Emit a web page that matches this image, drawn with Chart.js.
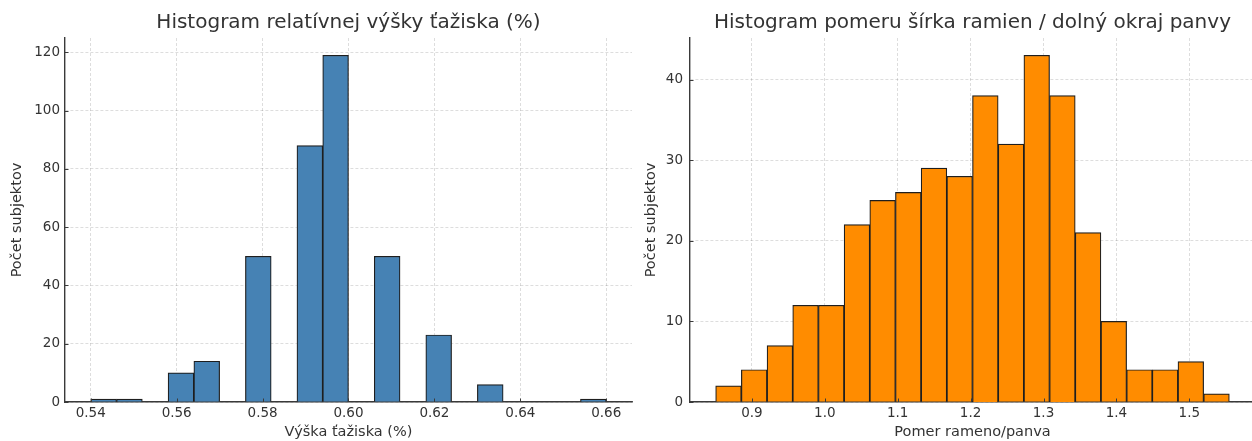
<!DOCTYPE html>
<html><head><meta charset="utf-8">
<script src="https://cdn.jsdelivr.net/npm/chart.js@4"></script>
<style>
html,body{margin:0;padding:0;background:#fff;overflow:hidden;width:1252px;height:441px}
#wrap{position:relative;width:1252px;height:441px;overflow:hidden;background:#fff}
#c1{position:absolute;left:0;top:0}
#c2{position:absolute;left:640px;top:0}
</style></head><body>
<div id="wrap"><canvas id="c1" width="640" height="441"></canvas><canvas id="c2" width="625" height="441"></canvas></div>
<script>
// ---- Left histogram ----
const leftTitle = 'Histogram relatívnej výšky ťažiska (%)';
const leftXLabel = 'Výška ťažiska (%)';
const leftYLabel = 'Počet subjektov';
const leftEdges = [0.540, 0.546, 0.552, 0.558, 0.564, 0.570, 0.576, 0.582, 0.588, 0.594, 0.600,
                   0.606, 0.612, 0.618, 0.624, 0.630, 0.636, 0.642, 0.648, 0.654, 0.660];
const leftCounts = [1, 1, 0, 10, 14, 0, 50, 0, 88, 119, 0, 50, 0, 23, 0, 6, 0, 0, 0, 1];
const leftXTicks = [0.54, 0.56, 0.58, 0.60, 0.62, 0.64, 0.66];
const leftXTickLabels = ['0.54', '0.56', '0.58', '0.60', '0.62', '0.64', '0.66'];
const leftYTicks = [0, 20, 40, 60, 80, 100, 120];
const leftYTickLabels = ['0', '20', '40', '60', '80', '100', '120'];

// ---- Right histogram ----
const rightTitle = 'Histogram pomeru šírka ramien / dolný okraj panvy';
const rightXLabel = 'Pomer rameno/panva';
const rightYLabel = 'Počet subjektov';
const rightEdges = [0.8503, 0.8855, 0.9208, 0.9560, 0.9912, 1.0265, 1.0617, 1.0969, 1.1321, 1.1674, 1.2026,
                    1.2378, 1.2731, 1.3083, 1.3435, 1.3788, 1.4140, 1.4492, 1.4844, 1.5197, 1.5549];
const rightCounts = [2, 4, 7, 12, 12, 22, 25, 26, 29, 28, 38, 32, 43, 38, 21, 10, 4, 4, 5, 1];
const rightXTicks = [0.9, 1.0, 1.1, 1.2, 1.3, 1.4, 1.5];
const rightXTickLabels = ['0.9', '1.0', '1.1', '1.2', '1.3', '1.4', '1.5'];
const rightYTicks = [0, 10, 20, 30, 40];
const rightYTickLabels = ['0', '10', '20', '30', '40'];

const FONT = "'DejaVu Sans', sans-serif";
const TEXT = '#333333';
const GRID = 'rgba(0,0,0,0.17)';
const AXIS = '#3a3a3a';

// small inward tick marks (matplotlib style), positioned by the chart's own scales
const inTicks = {
  id: 'inTicks',
  afterDraw(chart) {
    const { ctx, chartArea: a, scales: { x, y } } = chart;
    ctx.save();
    ctx.strokeStyle = AXIS; ctx.lineWidth = 1;
    ctx.beginPath();
    x.ticks.forEach(t => { const px = Math.round(x.getPixelForValue(t.value)) + 0.5; ctx.moveTo(px, a.bottom); ctx.lineTo(px, a.bottom - 3.5); });
    y.ticks.forEach(t => { const py = Math.round(y.getPixelForValue(t.value)) + 0.5; ctx.moveTo(a.left, py); ctx.lineTo(a.left + 3.5, py); });
    ctx.stroke();
    ctx.restore();
  }
};

function makeHist(id, o) {
  const pts = o.counts.map((c, i) => ({ x: (o.edges[i] + o.edges[i + 1]) / 2, y: c }));
  return new Chart(document.getElementById(id), {
    type: 'bar',
    data: { datasets: [{
      data: pts,
      backgroundColor: o.color,
      borderColor: '#1e1e1e',
      borderWidth: 1.2,
      barPercentage: 1,
      categoryPercentage: 1
    }]},
    plugins: [inTicks],
    options: {
      responsive: false,
      animation: false,
      devicePixelRatio: 1,
      layout: { padding: { left: 0, right: o.padRight, top: 0, bottom: 0 } },
      plugins: {
        legend: { display: false },
        tooltip: { enabled: false },
        title: {
          display: true, text: o.title, fullSize: false, color: TEXT,
          font: { family: FONT, size: 20, weight: 'normal', lineHeight: 1.2 },
          padding: { top: 11, bottom: 3 }
        }
      },
      scales: {
        x: {
          type: 'linear', min: o.xmin, max: o.xmax, offset: false,
          grid: { offset: false, color: GRID, lineWidth: 0.8, drawTicks: false },
          border: { display: true, color: AXIS, width: 1.4, dash: [3, 2] },
          afterBuildTicks: s => { s.ticks = o.xTicks.map(v => ({ value: v })); },
          afterFit: s => { s.height = 39; },
          ticks: {
            color: TEXT, padding: 3, maxRotation: 0, autoSkip: false,
            font: { family: FONT, size: 13.5 },
            callback: (v, i) => o.xTickLabels[i]
          },
          title: { display: true, text: o.xLabel, color: TEXT,
                   font: { family: FONT, size: 14.5 }, padding: { top: 0, bottom: 0 } }
        },
        y: {
          type: 'linear', min: 0, max: o.ymax,
          grid: { color: GRID, lineWidth: 0.8, drawTicks: false },
          border: { display: true, color: AXIS, width: 1.4, dash: [3, 2] },
          afterBuildTicks: s => { s.ticks = o.yTicks.map(v => ({ value: v })); },
          afterFit: s => { s.width = o.yWidth; },
          ticks: {
            color: TEXT, padding: o.yTickPad, autoSkip: false,
            font: { family: FONT, size: 13.5 },
            callback: (v, i) => o.yTickLabels[i]
          },
          title: { display: true, text: o.yLabel, color: TEXT,
                   font: { family: FONT, size: 14.5 }, padding: { top: o.yTitlePad, bottom: 0 } }
        }
      }
    }
  });
}

makeHist('c1', {
  title: leftTitle, xLabel: leftXLabel, yLabel: leftYLabel,
  edges: leftEdges, counts: leftCounts, color: '#4682B4',
  xTicks: leftXTicks, xTickLabels: leftXTickLabels,
  yTicks: leftYTicks, yTickLabels: leftYTickLabels,
  xmin: 0.534, xmax: 0.666, ymax: 124.95,
  yWidth: 65, yTitlePad: 8.3, yTickPad: 5, padRight: 8
});
makeHist('c2', {
  title: rightTitle, xLabel: rightXLabel, yLabel: rightYLabel,
  edges: rightEdges, counts: rightCounts, color: '#FF8C00',
  xTicks: rightXTicks, xTickLabels: rightXTickLabels,
  yTicks: rightYTicks, yTickLabels: rightYTickLabels,
  xmin: 0.8151, xmax: 1.5901, ymax: 45.15,
  yWidth: 50, yTitlePad: 2.3, yTickPad: 7, padRight: 10
});
</script>
</body></html>
